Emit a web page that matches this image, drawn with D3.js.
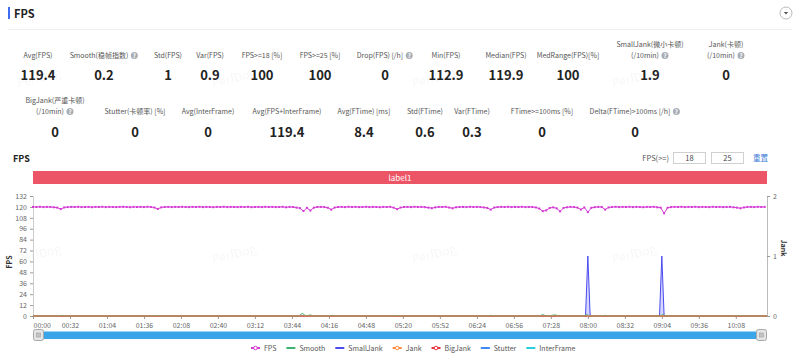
<!DOCTYPE html>
<html><head><meta charset="utf-8">
<script src="https://cdn.jsdelivr.net/npm/d3@7"></script>
<style>
html,body{margin:0;padding:0;background:#fff;}
svg{display:block;font-family:"Noto Sans CJK SC","Noto Sans",sans-serif;}
</style></head>
<body><svg id="c" width="800" height="356"></svg>
<script>
// ---------- data ----------
const row1Labels = [["Avg(FPS)"],["Smooth(稳帧指数)"],["Std(FPS)"],["Var(FPS)"],["FPS>=18 [%]"],["FPS>=25 [%]"],["Drop(FPS) [/h]"],["Min(FPS)"],["Median(FPS)"],["MedRange(FPS)[%]"],["SmallJank(微小卡顿)","(/10min)"],["Jank(卡顿)","(/10min)"]];
const row1Help   = [false,true,false,false,false,false,true,false,false,false,true,true];
const row1Values = ["119.4","0.2","1","0.9","100","100","0","112.9","119.9","100","1.9","0"];
const row2Labels = [["BigJank(严重卡顿)","(/10min)"],["Stutter(卡顿率) [%]"],["Avg(InterFrame)"],["Avg(FPS+InterFrame)"],["Avg(FTime) [ms]"],["Std(FTime)"],["Var(FTime)"],["FTime>=100ms [%]"],["Delta(FTime)>100ms [/h]"]];
const row2Help   = [true,false,false,false,false,false,false,false,true];
const row2Values = ["0","0","0","119.4","8.4","0.6","0.3","0","0"];

const xTickLabels = ["00:00","00:32","01:04","01:36","02:08","02:40","03:12","03:44","04:16","04:48","05:20","05:52","06:24","06:56","07:28","08:00","08:32","09:04","09:36","10:08"];
const yLeftTicks = [0,12,24,36,48,60,72,84,96,108,120,132];
const yRightTicks = [0,1,2];

// FPS sampled every 3 s (t = 0, 3, ..., 633)
const fpsStep = 3;
const fps = [
120,119.9,120.1,119.8,120,119.9,119.6,119.2,117.6,119.4,119.8,120,119.9,120.1,119.8,119.9,120,119.7,120,119.9,
120.1,119.8,120,119.9,119.8,120,120.1,119.9,119.7,120,119.9,120,119.8,120.1,119.9,119.3,117.8,119.5,119.9,120,
119.8,120,119.9,120.1,119.9,119.8,120,119.9,120.1,119.8,120,119.9,119.7,120,119.9,120.1,119.8,120,119.9,119.8,
120,119.9,120.1,119.7,119.9,120,119.8,120.1,119.9,120,119.8,119.9,120.1,119.6,120,119.9,119.2,118.6,115.4,118.9,
116,119.2,119.9,120,119.8,119.1,117,119.3,119.9,120,119.8,120.1,119.9,120,119.8,119.9,120.1,119.8,120,119.9,
119.7,120,119.9,120.1,119.2,117.5,119.3,119.9,120,119.8,120.1,119.9,120,119.7,119.2,118.6,119.5,120,119.9,120.1,
119.3,118.5,119.6,119.9,120,119.8,120.1,119.9,120,119.8,119.4,118.9,117,119.3,119.8,120,119.9,120.1,119.8,120,
119.9,120.1,119.8,120,119.9,119.4,118.2,115.3,116.2,118.8,119.5,118.4,115.1,118.9,119.6,120,119.8,119.2,117.1,119.4,
114.2,119,119.7,120,119.9,117,119.4,119.9,120.1,119.8,120,119.9,120.1,119.8,120,119.9,119.7,120,119.9,120.1,
119.6,119.2,112.9,119.1,119.8,120,119.9,120.1,119.8,120,119.9,120.1,119.8,120,119.9,119.8,120.1,119.9,120,119.8,
119.9,120,119.6,119.2,118.5,119.4,119.9,120,119.8,120.1,119.9,120];

const smoothT = [0,22,25,28,105,108,111,230,233,236,240,243,256,259,262,313,316,319,393,396,399,438,441,444,452,455,476,479,482,492,495,498,542,545,548,609,612,615,635];
const smoothV = [0,0,0.8,0,0,0.6,0,0,3,0,1.2,0,0,0.8,0,0,0.6,0,0,0.8,0,0,1.5,0,1.2,0,0,1.5,0,0,0.8,0,0,1.5,0,0,0.6,0,0];

const jankT       = [0,478,480,482,542,544,546,635];
const smallJankV  = [0,0,1,0,0,1,0,0];
const jankV       = [0,0,0,0,0,0,0,0];
const bigJankV    = [0,0,0,0,0,0,0,0];
const stutterV    = [0,0,0,0,0,0,0,0];
const interFrameV = [0,0,0,0,0,0,0,0];

const legendNames  = ["FPS","Smooth","SmallJank","Jank","BigJank","Stutter","InterFrame"];
const legendColors = ["#d43bd4","#3cb371","#4b4bf0","#ff8a3d","#e8343c","#3d8bf5","#2ccfe0"];
const legendMarker = [true,false,false,true,true,false,false];

// ---------- drawing ----------
const svg = d3.select("#c");
const font = '"Noto Sans CJK SC","Noto Sans",sans-serif';

// watermarks
const wmX = [40,235,435,635], wmY = [82,258];
wmY.forEach(yy => wmX.forEach(xx => {
  svg.append("text").attr("x",xx).attr("y",yy).attr("text-anchor","middle")
    .attr("transform",`rotate(-14,${xx},${yy})`)
    .attr("font-size",12).attr("fill","rgba(0,0,0,0.055)").text("PerfDog");
}));

// header
svg.append("rect").attr("x",8).attr("y",7).attr("width",2).attr("height",12).attr("fill","#3d6cf0");
svg.append("text").attr("x",14).attr("y",17.5).attr("font-size",11).attr("font-weight","bold").attr("fill","#222").text("FPS");
svg.append("line").attr("x1",8).attr("x2",792).attr("y1",29.5).attr("y2",29.5).attr("stroke","#eee");
svg.append("circle").attr("cx",786).attr("cy",13).attr("r",6).attr("fill","#fff").attr("stroke","#bbb");
svg.append("path").attr("d","M783.8,12 L788.2,12 L786,14.6 Z").attr("fill","#555");

function helpIcon(g, cx, cy){
  g.append("circle").attr("cx",cx).attr("cy",cy).attr("r",3.5).attr("fill","#a9adb5");
  g.append("text").attr("x",cx).attr("y",cy+2.2).attr("text-anchor","middle").attr("font-size",6).attr("font-weight","bold").attr("fill","#fff").text("?");
}

function statRow(labels, helps, values, xs, labelY, valueY){
  const g = svg.append("g");
  labels.forEach((lines, i) => {
    const n = lines.length;
    lines.forEach((ln, j) => {
      const yy = labelY - (n-1-j)*11;
      const isLast = j === n-1;
      const t = g.append("text").attr("x",xs[i]).attr("y",yy).attr("text-anchor","middle")
        .attr("font-size",7).attr("fill","#555").text(ln);
      if (helps[i] && isLast){
        const w = t.node().getComputedTextLength();
        t.attr("x", xs[i] - 5);
        helpIcon(g, xs[i] - 5 + w/2 + 6, yy - 2.5);
      }
    });
    g.append("text").attr("x",xs[i]).attr("y",valueY).attr("text-anchor","middle")
      .attr("font-size",13).attr("font-weight","bold").attr("fill","#222").text(values[i]);
  });
}
const row1X = [38,104,168,210,262,320,385,446,506,568,650,726];
const row2X = [55,135,208,287,364,425,472,542,635];
statRow(row1Labels,row1Help,row1Values,row1X,58,80);
statRow(row2Labels,row2Help,row2Values,row2X,114,137);

// chart header
svg.append("text").attr("x",13).attr("y",161.5).attr("font-size",9).attr("font-weight","bold").attr("fill","#222").text("FPS");
svg.append("text").attr("x",669).attr("y",161).attr("text-anchor","end").attr("font-size",7.5).attr("fill","#555").text("FPS(>=)");
[["18",673],["25",711]].forEach(([v,bx]) => {
  svg.append("rect").attr("x",bx+0.5).attr("y",152.5).attr("width",32).attr("height",11).attr("fill","#fff").attr("stroke","#d0d0d0");
  svg.append("text").attr("x",bx+16.5).attr("y",161).attr("text-anchor","middle").attr("font-size",7.5).attr("fill","#444").text(v);
});
svg.append("text").attr("x",753).attr("y",161).attr("font-size",7.5).attr("fill","#3a78d8").text("重置");

// label bar
svg.append("rect").attr("x",33).attr("y",171).attr("width",734).attr("height",13).attr("fill","#ec5566");
svg.append("text").attr("x",400).attr("y",180.5).attr("text-anchor","middle").attr("font-size",8).attr("fill","#fff").text("label1");

// scales
const x = d3.scaleLinear().domain([0,635]).range([33,767]);
const yL = d3.scaleLinear().domain([0,132]).range([316,196]);
const yR = d3.scaleLinear().domain([0,2]).range([316,196]);

const toSec = s => { const [m,ss] = s.split(":").map(Number); return m*60+ss; };

// axes
const ax = svg.append("g").attr("transform","translate(0,316)")
  .call(d3.axisBottom(x).tickValues(xTickLabels.map(toSec)).tickFormat((d,i)=>xTickLabels[i]).tickSize(3).tickSizeOuter(0));
ax.select(".domain").attr("stroke","#bbb");
ax.selectAll(".tick line").attr("stroke","#999");
ax.selectAll(".tick text").attr("font-size",7).attr("fill","#666").attr("font-family",font).attr("dy","0.9em");
ax.selectAll(".tick text").filter((d,i)=>i===0).attr("text-anchor","start");

const al = svg.append("g").attr("transform","translate(33,0)")
  .call(d3.axisLeft(yL).tickValues(yLeftTicks).tickSize(3).tickSizeOuter(0));
al.select(".domain").attr("stroke","#ccc");
al.selectAll(".tick line").attr("stroke","#999");
al.selectAll(".tick text").attr("font-size",7).attr("fill","#666").attr("font-family",font);

const ar = svg.append("g").attr("transform","translate(767,0)")
  .call(d3.axisRight(yR).tickValues(yRightTicks).tickFormat(d3.format("d")).tickSize(3).tickSizeOuter(0));
ar.select(".domain").attr("stroke","#bbb");
ar.selectAll(".tick line").attr("stroke","#999");
ar.selectAll(".tick text").attr("font-size",7).attr("fill","#666").attr("font-family",font);

svg.append("text").attr("transform","translate(12,262) rotate(-90)").attr("text-anchor","middle")
  .attr("font-size",7).attr("font-weight","bold").attr("fill","#333").text("FPS");
svg.append("text").attr("transform","translate(781,248) rotate(90)").attr("text-anchor","middle")
  .attr("font-size",7).attr("font-weight","bold").attr("fill","#333").text("Jank");

// series
const plot = svg.append("g");
function drawSeries(ts, vs, yScale, color, width){
  const pts = ts.map((t,i)=>[t,vs[i]]);
  plot.append("path").datum(pts)
    .attr("d", d3.line().x(d=>x(d[0])).y(d=>yScale(d[1])))
    .attr("fill","none").attr("stroke",color).attr("stroke-width",width);
  return pts;
}
drawSeries(jankT, interFrameV, yR, legendColors[6], 1);
drawSeries(jankT, stutterV, yR, legendColors[5], 1);

// SmallJank with light fill
const sjPts = jankT.map((t,i)=>[t,smallJankV[i]]);
plot.append("path").datum(sjPts)
  .attr("d", d3.area().x(d=>x(d[0])).y0(yR(0)).y1(d=>yR(d[1])))
  .attr("fill","#b9b9ff").attr("opacity",0.6);
drawSeries(jankT, smallJankV, yR, legendColors[2], 1);

drawSeries(jankT, bigJankV, yR, legendColors[4], 1);
drawSeries(smoothT, smoothV, yL, legendColors[1], 1);
drawSeries(jankT, jankV, yR, legendColors[3], 1);

// FPS
const fpsT = fps.map((v,i)=>i*fpsStep);
const fpsPts = drawSeries(fpsT, fps, yL, legendColors[0], 1);
plot.selectAll(".fm").data(fpsPts).enter().append("rect")
  .attr("x",d=>x(d[0])-1).attr("y",d=>yL(d[1])-1).attr("width",2).attr("height",2)
  .attr("fill",legendColors[0]);

// slider
svg.append("rect").attr("x",38).attr("y",331.5).attr("width",724).attr("height",7.5).attr("fill","#3aa5e9");
[33,756].forEach(hx => {
  svg.append("rect").attr("x",hx+0.5).attr("y",329.5).attr("width",10).attr("height",11).attr("rx",2)
    .attr("fill","#e4e4e4").attr("stroke","#a8a8a8");
  svg.append("rect").attr("x",hx+3.5).attr("y",333).attr("width",4).attr("height",4).attr("fill","#c4c4c4").attr("stroke","#999").attr("stroke-width",0.5);
});

// legend
const lg = svg.append("g");
let cx = 251;
legendNames.forEach((n,i) => {
  const c = legendColors[i];
  lg.append("line").attr("x1",cx).attr("x2",cx+9).attr("y1",348).attr("y2",348).attr("stroke",c).attr("stroke-width",2);
  if (legendMarker[i]) lg.append("circle").attr("cx",cx+4.5).attr("cy",348).attr("r",1.8).attr("fill","#fff").attr("stroke",c).attr("stroke-width",1);
  const t = lg.append("text").attr("x",cx+13).attr("y",350.5).attr("font-size",7).attr("fill","#555").text(n);
  cx += 13 + t.node().getComputedTextLength() + 10;
});
</script>
</body></html>
